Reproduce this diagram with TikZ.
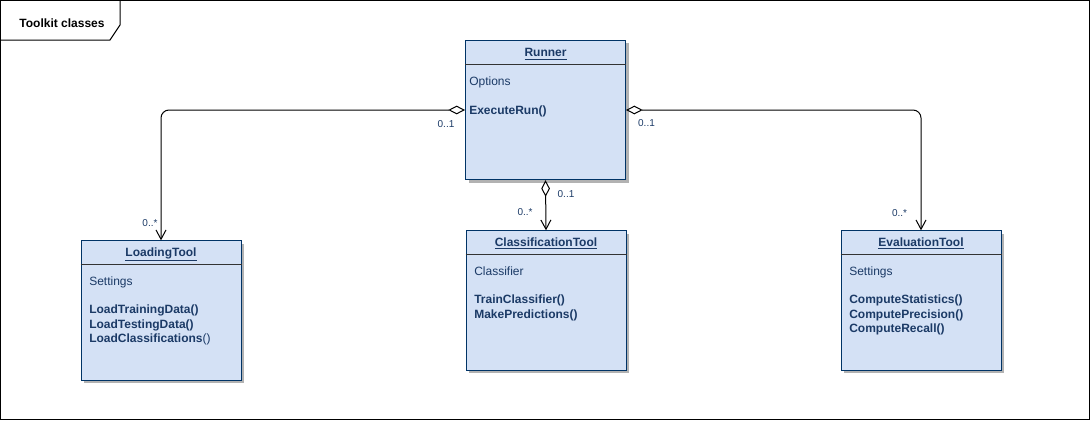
\documentclass[tikz,border=0pt]{standalone}
\usepackage{fontspec}
\setmainfont{Liberation Sans}
\usepackage{tikz}
\usetikzlibrary{arrows.meta,positioning,shadows}
\definecolor{classfill}{HTML}{D4E1F5}
\definecolor{classline}{HTML}{003366}
\definecolor{classtext}{HTML}{1B3A66}
\definecolor{sepline}{HTML}{333333}

\begin{document}
\begin{tikzpicture}[x=0.75pt, y=-0.75pt,
    classbox/.style={draw=classline, line width=0.75pt, fill=classfill, minimum width=120pt, minimum height=104.5pt, inner sep=0pt,
        drop shadow={shadow xshift=2.25pt, shadow yshift=-2.25pt, fill=black!30, opacity=1}},
    classname/.style={anchor=base, inner sep=0pt, font=\fontsize{9}{11}\selectfont\bfseries, text=classtext},
    member/.style={anchor=base west, inner sep=0pt, font=\fontsize{9}{11}\selectfont, text=classtext},
    method/.style={member, font=\fontsize{9}{11}\selectfont\bfseries},
    mult/.style={inner sep=0pt, font=\fontsize{7.5}{9}\selectfont, text=classtext},
    aggr/.style={line width=0.75pt, rounded corners=6pt,
        {Diamond[open, length=12.5pt, width=6.5pt]}-{Straight Barb[length=7pt, width=7.5pt]}}]
    \useasboundingbox (0,0) rectangle (1091,421);

    % Frame and title tab
    \draw[line width=0.75pt] (0.5,0.5) rectangle (1089.5,419.5);
    \draw[line width=0.75pt] (0.5,40) -- (110,40) -- (120,25) -- (120,0.5);
    \node[font=\fontsize{9}{11}\selectfont\bfseries] (frametitle) at (62,23) {Toolkit classes};

    % Runner
    \node[classbox] (runner) at (545.5,110) {};
    \node[classname] (runnername) at ([shift={(0,17)}]runner.north) {\underline{Runner}};
    \draw[sepline, line width=0.75pt] ([shift={(0,25)}]runner.north west) -- ([shift={(0,25)}]runner.north east);
    \node[member] (runneropt) at ([shift={(4,46)}]runner.north west) {Options};
    \node[method] (runnerexec) at ([shift={(4,75)}]runner.north west) {ExecuteRun()};

    % LoadingTool
    \node[classbox] (loadtool) at (161,310.5) {};
    \node[classname] (loadtoolname) at ([shift={(0,16)}]loadtool.north) {\underline{LoadingTool}};
    \draw[sepline, line width=0.75pt] ([shift={(0,24.5)}]loadtool.north west) -- ([shift={(0,24.5)}]loadtool.north east);
    \node[member] (loadtoolset) at ([shift={(8.5,45.5)}]loadtool.north west) {Settings};
    \node[method] (loadtrain) at ([shift={(8.5,73.5)}]loadtool.north west) {LoadTrainingData()};
    \node[method] (loadtest) at ([shift={(8.5,88)}]loadtool.north west) {LoadTestingData()};
    \node[member] (loadclass) at ([shift={(8.5,102.5)}]loadtool.north west) {\textbf{LoadClassifications}()};

    % ClassificationTool
    \node[classbox] (classtool) at (546,300.5) {};
    \node[classname] (classtoolname) at ([shift={(0,16)}]classtool.north) {\underline{ClassificationTool}};
    \draw[sepline, line width=0.75pt] ([shift={(0,24.5)}]classtool.north west) -- ([shift={(0,24.5)}]classtool.north east);
    \node[member] (classtoolclf) at ([shift={(8.5,45.5)}]classtool.north west) {Classifier};
    \node[method] (classtrain) at ([shift={(8.5,73.5)}]classtool.north west) {TrainClassifier()};
    \node[method] (classpred) at ([shift={(8.5,88)}]classtool.north west) {MakePredictions()};

    % EvaluationTool
    \node[classbox] (evaltool) at (921,300.5) {};
    \node[classname] (evaltoolname) at ([shift={(0,16)}]evaltool.north) {\underline{EvaluationTool}};
    \draw[sepline, line width=0.75pt] ([shift={(0,24.5)}]evaltool.north west) -- ([shift={(0,24.5)}]evaltool.north east);
    \node[member] (evaltoolset) at ([shift={(8.5,45.5)}]evaltool.north west) {Settings};
    \node[method] (evalstats) at ([shift={(8.5,73.5)}]evaltool.north west) {ComputeStatistics()};
    \node[method] (evalprec) at ([shift={(8.5,88)}]evaltool.north west) {ComputePrecision()};
    \node[method] (evalrecall) at ([shift={(8.5,102.5)}]evaltool.north west) {ComputeRecall()};

    % Aggregations
    \draw[aggr] (runner.west) -| (loadtool.north);
    \draw[aggr] (runner.south) -- (classtool.north);
    \draw[aggr] (runner.east) -| (evaltool.north);

    % Multiplicities
    \node[mult] (loadsrc) at ([shift={(-19,14)}]runner.west) {0..1};
    \node[mult] (loaddst) at ([shift={(-11,-17)}]loadtool.north) {0..*};
    \node[mult] (classsrc) at ([shift={(20.5,14)}]runner.south) {0..1};
    \node[mult] (classdst) at ([shift={(-21,-18)}]classtool.north) {0..*};
    \node[mult] (evalsrc) at ([shift={(20.5,13)}]runner.east) {0..1};
    \node[mult] (evaldst) at ([shift={(-21.5,-17)}]evaltool.north) {0..*};
\end{tikzpicture}
\end{document}
